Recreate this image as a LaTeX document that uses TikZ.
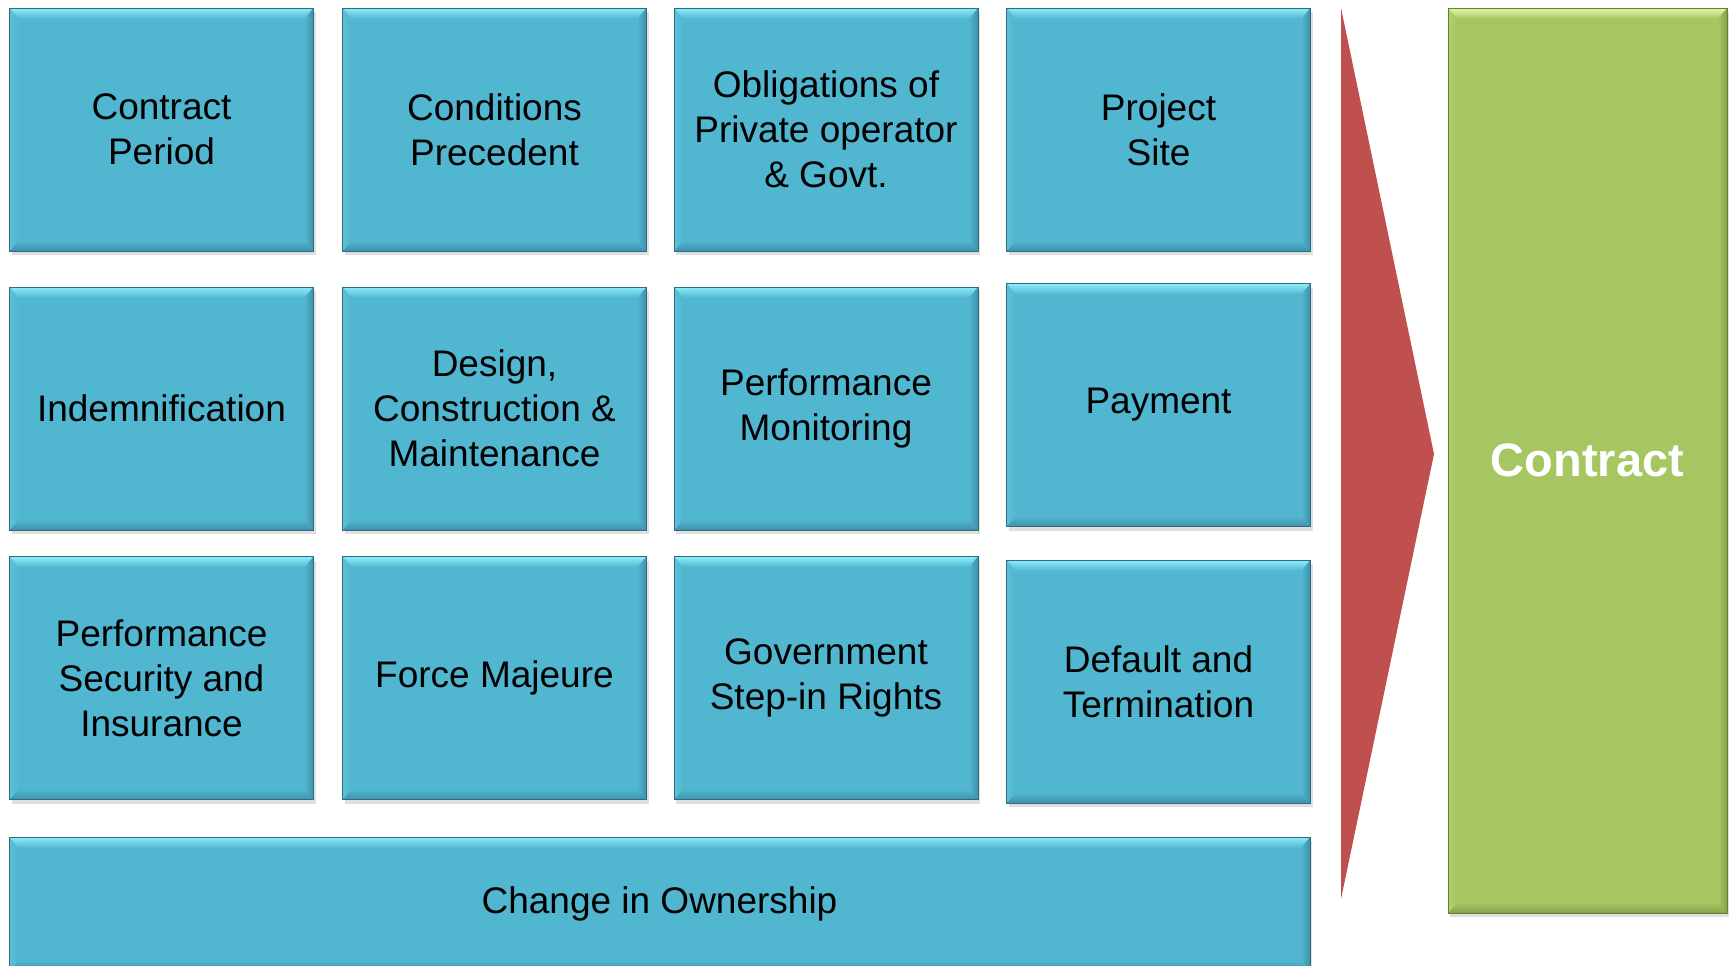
\documentclass[tikz,border=0pt]{standalone}
\usepackage{fontspec}
\setmainfont{Liberation Sans}
\usepackage{tikz}
\usetikzlibrary{shadows}

\definecolor{cellblue}{RGB}{81,182,208}
\definecolor{cellhi}{RGB}{140,236,250}
\definecolor{celldark}{RGB}{62,144,170}
\definecolor{celledge}{RGB}{48,108,128}
\definecolor{greenbox}{RGB}{166,198,98}
\definecolor{greenhi}{RGB}{226,248,164}
\definecolor{greendark}{RGB}{132,162,74}
\definecolor{greenedge}{RGB}{100,126,56}
\definecolor{arrowred}{RGB}{192,80,77}

\newcommand{\bevel}[3]{%
  \coordinate (bnw) at (path picture bounding box.north west);
  \coordinate (bne) at (path picture bounding box.north east);
  \coordinate (bsw) at (path picture bounding box.south west);
  \coordinate (bse) at (path picture bounding box.south east);
  \shade[top color=#1, bottom color=#2] (bnw) -- (bne) -- ([xshift=-9pt,yshift=-11pt]bne) -- ([xshift=9pt,yshift=-11pt]bnw) -- cycle;
  \shade[top color=#2, bottom color=#3] (bsw) -- (bse) -- ([xshift=-9pt,yshift=10pt]bse) -- ([xshift=9pt,yshift=10pt]bsw) -- cycle;
  \shade[left color=#2, right color=#3] (bne) -- (bse) -- ([xshift=-9pt,yshift=10pt]bse) -- ([xshift=-9pt,yshift=-11pt]bne) -- cycle;
  \shade[left color=#2!80!#1, right color=#2] (bnw) -- (bsw) -- ([xshift=9pt,yshift=10pt]bsw) -- ([xshift=9pt,yshift=-11pt]bnw) -- cycle;
}

\tikzset{
  cell/.style={draw=celledge, line width=.8pt, fill=cellblue, minimum width=304pt, minimum height=243pt,
    inner sep=0pt, align=center, font=\fontsize{37}{45}\selectfont,
    drop shadow={shadow xshift=2pt, shadow yshift=-4pt, opacity=.25},
    path picture={\bevel{cellhi}{cellblue}{celldark}}},
  final/.style={draw=greenedge, line width=.8pt, fill=greenbox, minimum width=279pt, minimum height=905pt,
    inner sep=0pt, text=white, font=\fontsize{47}{56}\selectfont\bfseries,
    drop shadow={shadow xshift=2pt, shadow yshift=-4pt, opacity=.25},
    path picture={\bevel{greenhi}{greenbox}{greendark}}}
}

\begin{document}
\begin{tikzpicture}[x=1pt, y=-1pt]
\useasboundingbox (0,0) rectangle (1729,966);
\clip (0,0) rectangle (1729,966);
\fill[white] (0,0) rectangle (1729,966);

\node[cell] (period) at (161.5,129.5) {Contract\\Period};
\node[cell] (precedent) at (494.5,129.5) {Conditions\\Precedent};
\node[cell] (obligations) at (826,129.5) {Obligations of\\Private operator\\\& Govt.};
\node[cell] (site) at (1158.5,129.5) {Project\\Site};

\node[cell] (indemn) at (161.5,408.5) {Indemnification};
\node[cell] (design) at (494.5,408.5) {Design,\\Construction \&\\Maintenance};
\node[cell] (monitor) at (826,408.5) {Performance\\Monitoring};
\node[cell] (payment) at (1158.5,405) {Payment};

\node[cell] (security) at (161.5,678) {Performance\\Security and\\Insurance};
\node[cell] (majeure) at (494.5,678) {Force Majeure};
\node[cell] (stepin) at (826,678) {Government\\Step-in Rights};
\node[cell] (default) at (1158.5,681.5) {Default and\\Termination};

\node[cell, minimum width=1301pt, minimum height=134pt] (ownership) at (659.5,904) {Change in Ownership};

\fill[arrowred] (1341,8) -- (1434,454) -- (1341,899) -- cycle;

\node[final] (contract) at (1587.5,460.5) {Contract};
\end{tikzpicture}
\end{document}
